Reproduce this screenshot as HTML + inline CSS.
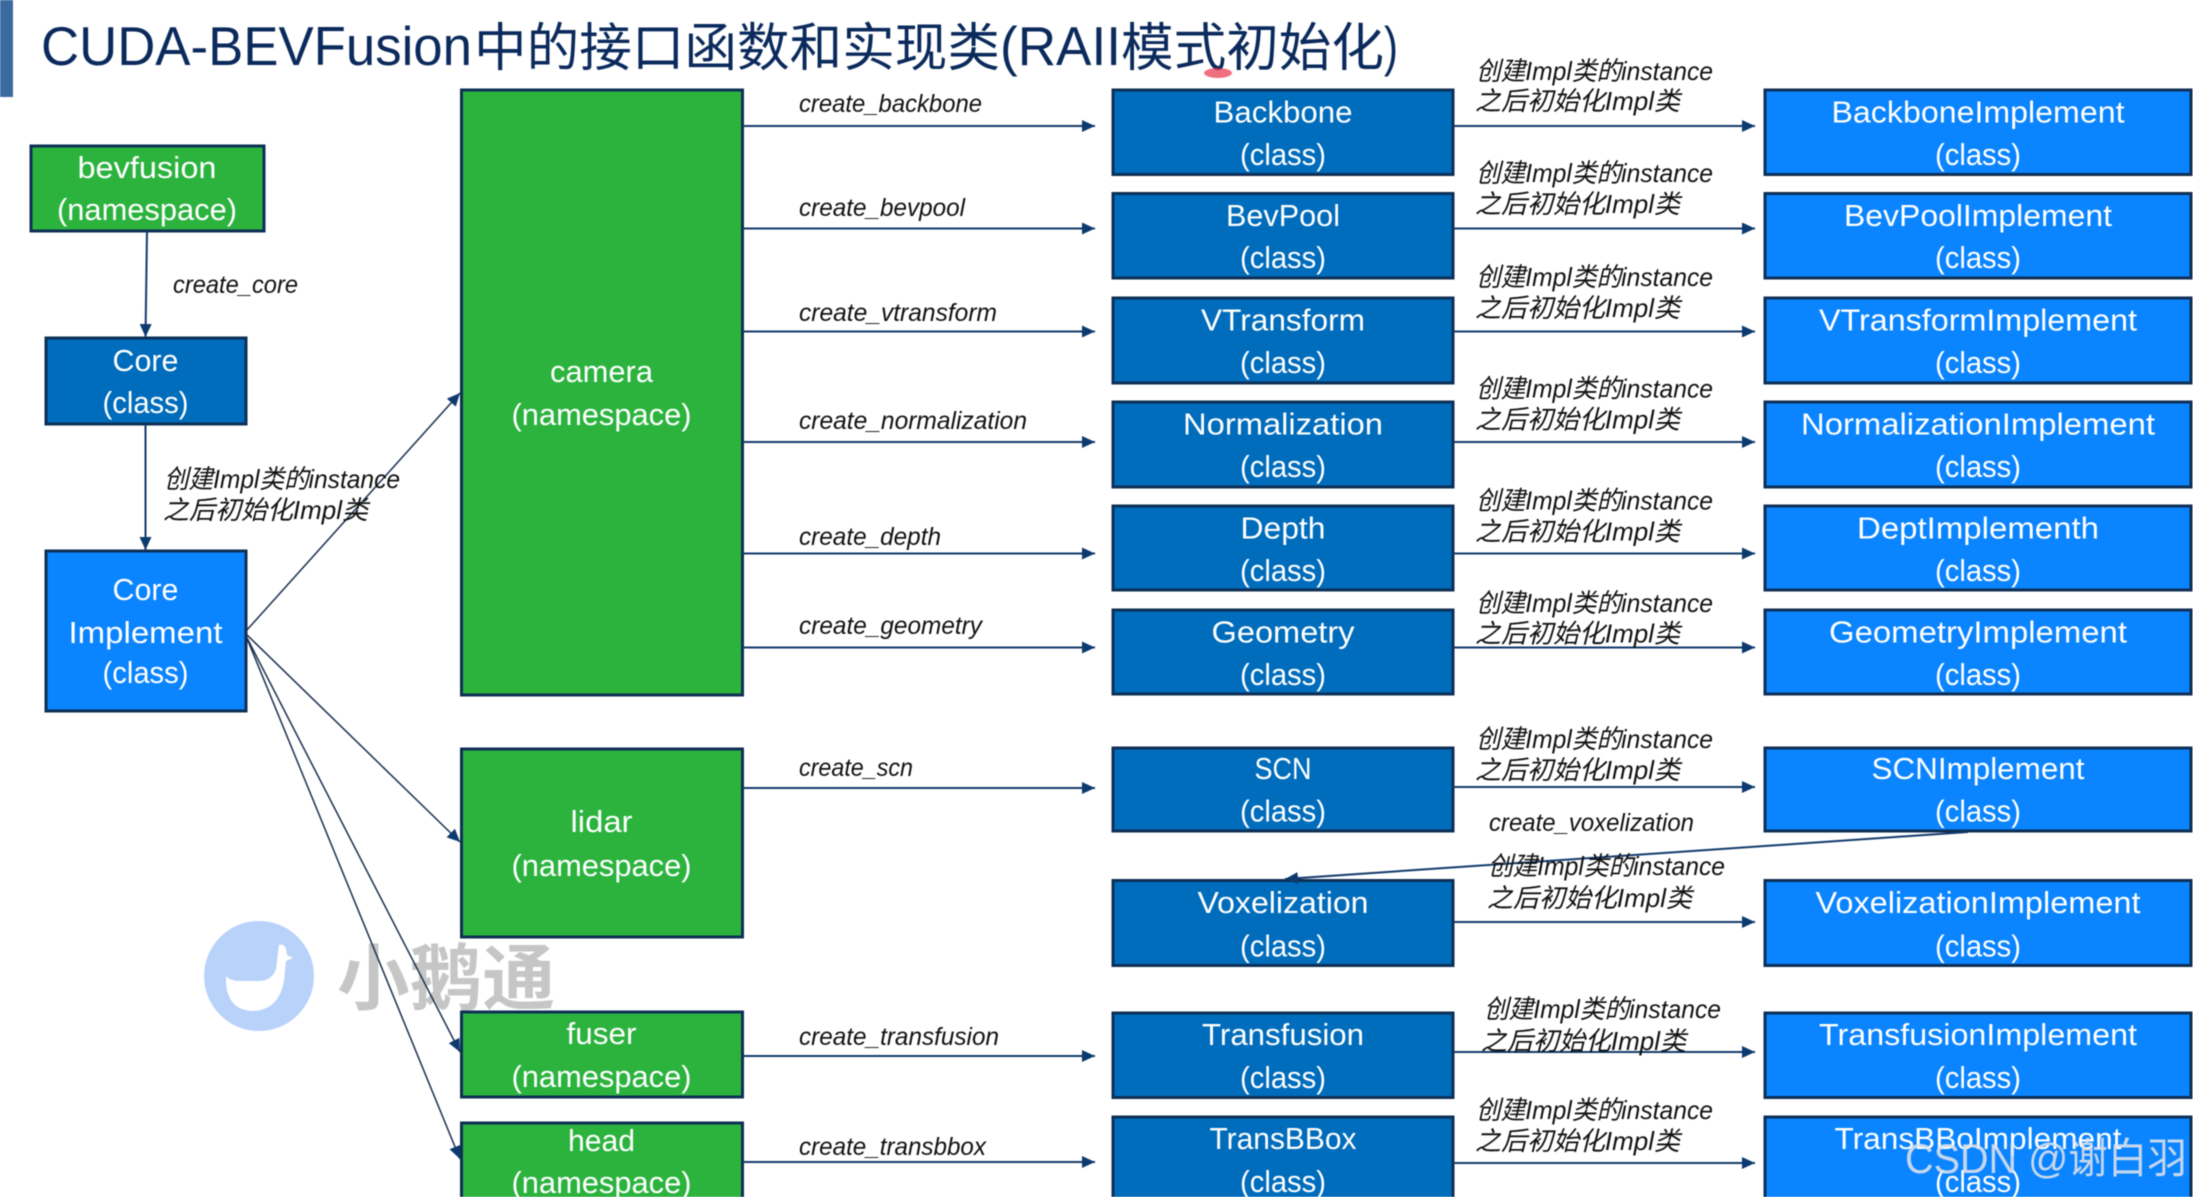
<!DOCTYPE html>
<html lang="zh"><head><meta charset="utf-8"><title>CUDA-BEVFusion</title>
<style>
html,body{margin:0;padding:0;background:#fff;width:2193px;height:1197px;overflow:hidden}
svg{display:block;filter:blur(.55px)}
.n{font:31px "Liberation Sans","Noto Sans CJK SC",sans-serif;fill:#fff;text-anchor:middle}
.f{font:italic 25px "Liberation Sans","Noto Sans CJK SC",sans-serif;fill:#111}
.c{font:italic 26px "Liberation Sans","Noto Sans CJK SC",sans-serif;fill:#111}
.t{font:52px "Liberation Sans","Noto Sans CJK SC",sans-serif;fill:#0b2a5c}
.tl{font:55px "Liberation Sans",sans-serif;fill:#0b2a5c}
.g{fill:#2bb33e;stroke:#0e2f55;stroke-width:3}
.d{fill:#006cbc;stroke:#0e2f55;stroke-width:3}
.b{fill:#0a84ff;stroke:#0e2f55;stroke-width:3}
.l{stroke:#123a6b;stroke-width:2;fill:none;marker-end:url(#a)}
.s{stroke:#1a3050;stroke-width:1.5;fill:none;marker-end:url(#a)}
</style></head><body>
<svg width="2193" height="1197" viewBox="0 0 2193 1197" xmlns="http://www.w3.org/2000/svg">
<defs><marker id="a" markerUnits="userSpaceOnUse" markerWidth="14" markerHeight="14" refX="13" refY="7" orient="auto"><path d="M0 1L13 7L0 13z" fill="#0c3a6e"/></marker></defs>
<rect width="2193" height="1197" fill="#fff"/>
<rect x="0" y="0" width="13" height="97" fill="#3b6aa0"/>

<!-- title -->
<text class="tl" x="41" y="65" textLength="431" lengthAdjust="spacingAndGlyphs">CUDA-BEVFusion</text>
<text class="t" x="474" y="66" textLength="526" lengthAdjust="spacingAndGlyphs">中的接口函数和实现类</text>
<text class="tl" x="1000" y="65" textLength="121" lengthAdjust="spacingAndGlyphs">(RAII</text>
<text class="t" x="1121" y="66" textLength="263" lengthAdjust="spacingAndGlyphs">模式初始化</text>
<text class="tl" x="1384" y="65" textLength="14" lengthAdjust="spacingAndGlyphs">)</text>
<ellipse cx="1218" cy="73" rx="14" ry="5" fill="#e8354a" opacity=".7"/>

<!-- watermark -->
<ellipse cx="259" cy="976" rx="55" ry="55" fill="#b8d2fa"/>
<path d="M226 976q4 5 14 5l18 0q14 0 18-12l3-24q5-2 7 4l1 6 6 3-7 3-1 10q-2 40-34 40q-26-2-25-35z" fill="#fff"/>
<text x="337" y="1004" font-family="'Liberation Sans','Noto Sans CJK SC',sans-serif" font-weight="700" font-size="72" fill="#c6c6c6" textLength="218" lengthAdjust="spacingAndGlyphs">小鹅通</text>

<!-- left column -->
<rect class="g" x="31" y="146" width="233" height="85"/>
<text class="n" x="147" y="178" textLength="139" lengthAdjust="spacingAndGlyphs">bevfusion</text>
<text class="n" x="147" y="220" textLength="180" lengthAdjust="spacingAndGlyphs">(namespace)</text>
<rect class="d" x="46" y="338" width="200" height="86"/>
<text class="n" x="145.500" y="371" textLength="66" lengthAdjust="spacingAndGlyphs">Core</text>
<text class="n" x="145.500" y="413" textLength="86" lengthAdjust="spacingAndGlyphs">(class)</text>
<rect class="b" x="46" y="551" width="200" height="160"/>
<text class="n" x="145.500" y="600" textLength="66" lengthAdjust="spacingAndGlyphs">Core</text>
<text class="n" x="145.500" y="643" textLength="154" lengthAdjust="spacingAndGlyphs">Implement</text>
<text class="n" x="145.500" y="683" textLength="86" lengthAdjust="spacingAndGlyphs">(class)</text>

<line class="l" x1="147" y1="231" x2="145.500" y2="337"/>
<line class="l" x1="145.500" y1="424" x2="145.500" y2="550"/>
<line class="s" x1="246" y1="631" x2="460" y2="393"/>
<line class="s" x1="246" y1="634" x2="460" y2="842"/>
<line class="s" x1="246" y1="636" x2="460" y2="1052"/>
<line class="s" x1="246" y1="636" x2="460" y2="1159"/>

<text class="f" x="173" y="293" textLength="125" lengthAdjust="spacingAndGlyphs">create_core</text>
<text class="c" x="164" y="488" textLength="236" lengthAdjust="spacingAndGlyphs">创建Impl类的instance</text>
<text class="c" x="163" y="519" textLength="205" lengthAdjust="spacingAndGlyphs">之后初始化Impl类</text>

<!-- namespaces -->
<rect class="g" x="461.500" y="90" width="281" height="605"/>
<text class="n" x="601.500" y="382" textLength="103" lengthAdjust="spacingAndGlyphs">camera</text>
<text class="n" x="601.500" y="425" textLength="180" lengthAdjust="spacingAndGlyphs">(namespace)</text>
<rect class="g" x="461.500" y="749" width="281" height="188"/>
<text class="n" x="601.500" y="832" textLength="62" lengthAdjust="spacingAndGlyphs">lidar</text>
<text class="n" x="601.500" y="876" textLength="180" lengthAdjust="spacingAndGlyphs">(namespace)</text>
<rect class="g" x="461.500" y="1012" width="281" height="85"/>
<text class="n" x="601.500" y="1044" textLength="70" lengthAdjust="spacingAndGlyphs">fuser</text>
<text class="n" x="601.500" y="1087" textLength="180" lengthAdjust="spacingAndGlyphs">(namespace)</text>
<rect class="g" x="461.500" y="1123" width="281" height="90"/>
<text class="n" x="601.500" y="1151" textLength="67" lengthAdjust="spacingAndGlyphs">head</text>
<text class="n" x="601.500" y="1193" textLength="180" lengthAdjust="spacingAndGlyphs">(namespace)</text>

<!-- namespace to class arrows -->
<line class="l" x1="743" y1="126" x2="1095" y2="126"/>
<line class="l" x1="743" y1="228.500" x2="1095" y2="228.500"/>
<line class="l" x1="743" y1="331.500" x2="1095" y2="331.500"/>
<line class="l" x1="743" y1="442" x2="1095" y2="442"/>
<line class="l" x1="743" y1="553.500" x2="1095" y2="553.500"/>
<line class="l" x1="743" y1="647.500" x2="1095" y2="647.500"/>
<line class="l" x1="743" y1="788" x2="1095" y2="788"/>
<line class="l" x1="743" y1="1056" x2="1095" y2="1056"/>
<line class="l" x1="743" y1="1162" x2="1095" y2="1162"/>

<text class="f" x="799" y="112" textLength="183" lengthAdjust="spacingAndGlyphs">create_backbone</text>
<text class="f" x="799" y="216" textLength="166" lengthAdjust="spacingAndGlyphs">create_bevpool</text>
<text class="f" x="799" y="321" textLength="198" lengthAdjust="spacingAndGlyphs">create_vtransform</text>
<text class="f" x="799" y="429" textLength="228" lengthAdjust="spacingAndGlyphs">create_normalization</text>
<text class="f" x="799" y="545" textLength="142" lengthAdjust="spacingAndGlyphs">create_depth</text>
<text class="f" x="799" y="634" textLength="183" lengthAdjust="spacingAndGlyphs">create_geometry</text>
<text class="f" x="799" y="776" textLength="114" lengthAdjust="spacingAndGlyphs">create_scn</text>
<text class="f" x="799" y="1045" textLength="200" lengthAdjust="spacingAndGlyphs">create_transfusion</text>
<text class="f" x="799" y="1155" textLength="187" lengthAdjust="spacingAndGlyphs">create_transbbox</text>

<!-- middle class boxes -->
<rect class="d" x="1113" y="90" width="340" height="84.500"/>
<text class="n" x="1283" y="122.500" textLength="139" lengthAdjust="spacingAndGlyphs">Backbone</text>
<text class="n" x="1283" y="165" textLength="86" lengthAdjust="spacingAndGlyphs">(class)</text>
<rect class="d" x="1113" y="193.500" width="340" height="84.500"/>
<text class="n" x="1283" y="226" textLength="114" lengthAdjust="spacingAndGlyphs">BevPool</text>
<text class="n" x="1283" y="268" textLength="86" lengthAdjust="spacingAndGlyphs">(class)</text>
<rect class="d" x="1113" y="298" width="340" height="85"/>
<text class="n" x="1283" y="330.500" textLength="164" lengthAdjust="spacingAndGlyphs">VTransform</text>
<text class="n" x="1283" y="373" textLength="86" lengthAdjust="spacingAndGlyphs">(class)</text>
<rect class="d" x="1113" y="402" width="340" height="85"/>
<text class="n" x="1283" y="434.500" textLength="200" lengthAdjust="spacingAndGlyphs">Normalization</text>
<text class="n" x="1283" y="477" textLength="86" lengthAdjust="spacingAndGlyphs">(class)</text>
<rect class="d" x="1113" y="506" width="340" height="84"/>
<text class="n" x="1283" y="538.500" textLength="85" lengthAdjust="spacingAndGlyphs">Depth</text>
<text class="n" x="1283" y="581" textLength="86" lengthAdjust="spacingAndGlyphs">(class)</text>
<rect class="d" x="1113" y="610" width="340" height="84"/>
<text class="n" x="1283" y="642.500" textLength="143" lengthAdjust="spacingAndGlyphs">Geometry</text>
<text class="n" x="1283" y="685" textLength="86" lengthAdjust="spacingAndGlyphs">(class)</text>
<rect class="d" x="1113" y="748" width="340" height="83"/>
<text class="n" x="1283" y="779" textLength="57" lengthAdjust="spacingAndGlyphs">SCN</text>
<text class="n" x="1283" y="821.500" textLength="86" lengthAdjust="spacingAndGlyphs">(class)</text>
<rect class="d" x="1113" y="880.500" width="340" height="85"/>
<text class="n" x="1283" y="913" textLength="171" lengthAdjust="spacingAndGlyphs">Voxelization</text>
<text class="n" x="1283" y="956.500" textLength="86" lengthAdjust="spacingAndGlyphs">(class)</text>
<rect class="d" x="1113" y="1013" width="340" height="84.500"/>
<text class="n" x="1283" y="1045" textLength="162" lengthAdjust="spacingAndGlyphs">Transfusion</text>
<text class="n" x="1283" y="1088" textLength="86" lengthAdjust="spacingAndGlyphs">(class)</text>
<rect class="d" x="1113" y="1117" width="340" height="96"/>
<text class="n" x="1283" y="1149" textLength="147" lengthAdjust="spacingAndGlyphs">TransBBox</text>
<text class="n" x="1283" y="1192" textLength="86" lengthAdjust="spacingAndGlyphs">(class)</text>

<!-- implement boxes -->
<rect class="b" x="1765" y="90" width="426" height="84.500"/>
<text class="n" x="1978" y="122.500" textLength="293" lengthAdjust="spacingAndGlyphs">BackboneImplement</text>
<text class="n" x="1978" y="165" textLength="86" lengthAdjust="spacingAndGlyphs">(class)</text>
<rect class="b" x="1765" y="193.500" width="426" height="84.500"/>
<text class="n" x="1978" y="226" textLength="268" lengthAdjust="spacingAndGlyphs">BevPoolImplement</text>
<text class="n" x="1978" y="268" textLength="86" lengthAdjust="spacingAndGlyphs">(class)</text>
<rect class="b" x="1765" y="298" width="426" height="85"/>
<text class="n" x="1978" y="330.500" textLength="318" lengthAdjust="spacingAndGlyphs">VTransformImplement</text>
<text class="n" x="1978" y="373" textLength="86" lengthAdjust="spacingAndGlyphs">(class)</text>
<rect class="b" x="1765" y="402" width="426" height="85"/>
<text class="n" x="1978" y="434.500" textLength="354" lengthAdjust="spacingAndGlyphs">NormalizationImplement</text>
<text class="n" x="1978" y="477" textLength="86" lengthAdjust="spacingAndGlyphs">(class)</text>
<rect class="b" x="1765" y="506" width="426" height="84"/>
<text class="n" x="1978" y="538.500" textLength="242" lengthAdjust="spacingAndGlyphs">DeptImplementh</text>
<text class="n" x="1978" y="581" textLength="86" lengthAdjust="spacingAndGlyphs">(class)</text>
<rect class="b" x="1765" y="610" width="426" height="84"/>
<text class="n" x="1978" y="642.500" textLength="298" lengthAdjust="spacingAndGlyphs">GeometryImplement</text>
<text class="n" x="1978" y="685" textLength="86" lengthAdjust="spacingAndGlyphs">(class)</text>
<rect class="b" x="1765" y="748" width="426" height="83"/>
<text class="n" x="1978" y="779" textLength="213" lengthAdjust="spacingAndGlyphs">SCNImplement</text>
<text class="n" x="1978" y="821.500" textLength="86" lengthAdjust="spacingAndGlyphs">(class)</text>
<rect class="b" x="1765" y="880.500" width="426" height="85"/>
<text class="n" x="1978" y="913" textLength="325" lengthAdjust="spacingAndGlyphs">VoxelizationImplement</text>
<text class="n" x="1978" y="956.500" textLength="86" lengthAdjust="spacingAndGlyphs">(class)</text>
<rect class="b" x="1765" y="1013" width="426" height="84.500"/>
<text class="n" x="1978" y="1045" textLength="318" lengthAdjust="spacingAndGlyphs">TransfusionImplement</text>
<text class="n" x="1978" y="1088" textLength="86" lengthAdjust="spacingAndGlyphs">(class)</text>
<rect class="b" x="1765" y="1117" width="426" height="96"/>
<text class="n" x="1978" y="1149" textLength="287" lengthAdjust="spacingAndGlyphs">TransBBoImplement</text>
<text class="n" x="1978" y="1192" textLength="86" lengthAdjust="spacingAndGlyphs">(class)</text>

<!-- class to implement arrows -->
<line class="l" x1="1453" y1="126" x2="1755" y2="126"/>
<line class="l" x1="1453" y1="228.500" x2="1755" y2="228.500"/>
<line class="l" x1="1453" y1="331.500" x2="1755" y2="331.500"/>
<line class="l" x1="1453" y1="442" x2="1755" y2="442"/>
<line class="l" x1="1453" y1="553.500" x2="1755" y2="553.500"/>
<line class="l" x1="1453" y1="647.500" x2="1755" y2="647.500"/>
<line class="l" x1="1453" y1="787" x2="1755" y2="787"/>
<line class="l" x1="1453" y1="922" x2="1755" y2="922"/>
<line class="l" x1="1453" y1="1052" x2="1755" y2="1052"/>
<line class="l" x1="1453" y1="1163" x2="1755" y2="1163"/>
<line class="l" x1="1968" y1="832" x2="1285" y2="879"/>

<!-- annotations -->
<text class="c" x="1476" y="80" textLength="237" lengthAdjust="spacingAndGlyphs">创建Impl类的instance</text>
<text class="c" x="1475" y="110" textLength="205" lengthAdjust="spacingAndGlyphs">之后初始化Impl类</text>
<text class="c" x="1476" y="182" textLength="237" lengthAdjust="spacingAndGlyphs">创建Impl类的instance</text>
<text class="c" x="1475" y="213" textLength="205" lengthAdjust="spacingAndGlyphs">之后初始化Impl类</text>
<text class="c" x="1476" y="286" textLength="237" lengthAdjust="spacingAndGlyphs">创建Impl类的instance</text>
<text class="c" x="1475" y="317" textLength="205" lengthAdjust="spacingAndGlyphs">之后初始化Impl类</text>
<text class="c" x="1476" y="397.500" textLength="237" lengthAdjust="spacingAndGlyphs">创建Impl类的instance</text>
<text class="c" x="1475" y="428.500" textLength="205" lengthAdjust="spacingAndGlyphs">之后初始化Impl类</text>
<text class="c" x="1476" y="509.500" textLength="237" lengthAdjust="spacingAndGlyphs">创建Impl类的instance</text>
<text class="c" x="1475" y="540.500" textLength="205" lengthAdjust="spacingAndGlyphs">之后初始化Impl类</text>
<text class="c" x="1476" y="612" textLength="237" lengthAdjust="spacingAndGlyphs">创建Impl类的instance</text>
<text class="c" x="1475" y="642.500" textLength="205" lengthAdjust="spacingAndGlyphs">之后初始化Impl类</text>
<text class="c" x="1476" y="748" textLength="237" lengthAdjust="spacingAndGlyphs">创建Impl类的instance</text>
<text class="c" x="1475" y="779" textLength="205" lengthAdjust="spacingAndGlyphs">之后初始化Impl类</text>
<text class="f" x="1489" y="831" textLength="205" lengthAdjust="spacingAndGlyphs">create_voxelization</text>
<text class="c" x="1488" y="875" textLength="237" lengthAdjust="spacingAndGlyphs">创建Impl类的instance</text>
<text class="c" x="1487" y="907" textLength="205" lengthAdjust="spacingAndGlyphs">之后初始化Impl类</text>
<text class="c" x="1484" y="1018" textLength="237" lengthAdjust="spacingAndGlyphs">创建Impl类的instance</text>
<text class="c" x="1481" y="1050" textLength="205" lengthAdjust="spacingAndGlyphs">之后初始化Impl类</text>
<text class="c" x="1476" y="1119" textLength="237" lengthAdjust="spacingAndGlyphs">创建Impl类的instance</text>
<text class="c" x="1475" y="1150" textLength="205" lengthAdjust="spacingAndGlyphs">之后初始化Impl类</text>

<!-- CSDN watermark -->
<text x="1905" y="1173" font-family="'Liberation Sans','Noto Sans CJK SC',sans-serif" font-size="42" fill="#dfe3ea" fill-opacity=".88" textLength="282" lengthAdjust="spacingAndGlyphs">CSDN @谢白羽</text>
</svg>
</body></html>
